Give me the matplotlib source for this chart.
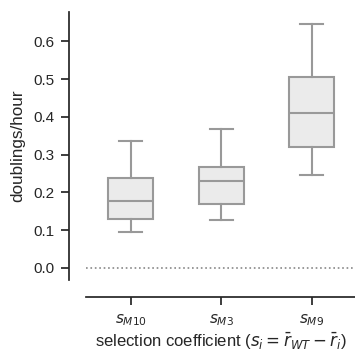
import matplotlib
matplotlib.use("Agg")
import matplotlib.pyplot as plt

categories = [r"$s_{M10}$", r"$s_{M3}$", r"$s_{M9}$"]
whislo = [0.095, 0.126, 0.247]
q1 = [0.130, 0.170, 0.321]
med = [0.176, 0.229, 0.410]
q3 = [0.237, 0.268, 0.506]
whishi = [0.337, 0.368, 0.646]
yticks = [0.0, 0.1, 0.2, 0.3, 0.4, 0.5, 0.6]

plt.rcParams['font.family'] = ['Liberation Sans', 'DejaVu Sans']
plt.rcParams['mathtext.fontset'] = 'dejavusans'

dark = '#262626'
edge = '#999999'
face = '#ebebeb'

fig = plt.figure(figsize=(3.55, 3.52), dpi=100)
ax = fig.add_axes([85.5/355, 72/352, (357-85.5)/355, 268/352])

stats = []
for i in range(len(categories)):
    stats.append(dict(whislo=whislo[i], q1=q1[i], med=med[i], q3=q3[i], whishi=whishi[i], fliers=[]))

ax.bxp(stats, positions=range(len(categories)), widths=0.5, patch_artist=True,
       showfliers=False,
       boxprops=dict(facecolor=face, edgecolor=edge, linewidth=1.5),
       medianprops=dict(color=edge, linewidth=1.5),
       whiskerprops=dict(color=edge, linewidth=1.5),
       capprops=dict(color=edge, linewidth=1.5))

ax.axhline(0, color='#888888', linestyle=':', linewidth=1.2, zorder=0)

ax.set_xlim(-0.5, 2.5)
ax.set_ylim(-0.0323, 0.678)
ax.set_xticks(range(len(categories)))
ax.set_xticklabels(categories)
ax.set_yticks(yticks)
ax.set_yticklabels([f"{v:.1f}" for v in yticks])

for s in ['top', 'right']:
    ax.spines[s].set_visible(False)
for s in ['left', 'bottom']:
    ax.spines[s].set_position(('outward', 12.2))
    ax.spines[s].set_color(dark)
    ax.spines[s].set_linewidth(1.25)
ax.tick_params(axis='both', colors=dark, labelcolor=dark, labelsize=11, length=6, width=1.25, pad=4)
ax.tick_params(axis='x', pad=5)

ax.set_ylabel('doublings/hour', fontsize=12.3, color=dark, labelpad=6)
ax.set_xlabel(r"selection coefficient ($s_i = \bar{r}_{WT} - \bar{r}_i$)", fontsize=12, color=dark, labelpad=2)

fig.savefig('out.png', dpi=100)
